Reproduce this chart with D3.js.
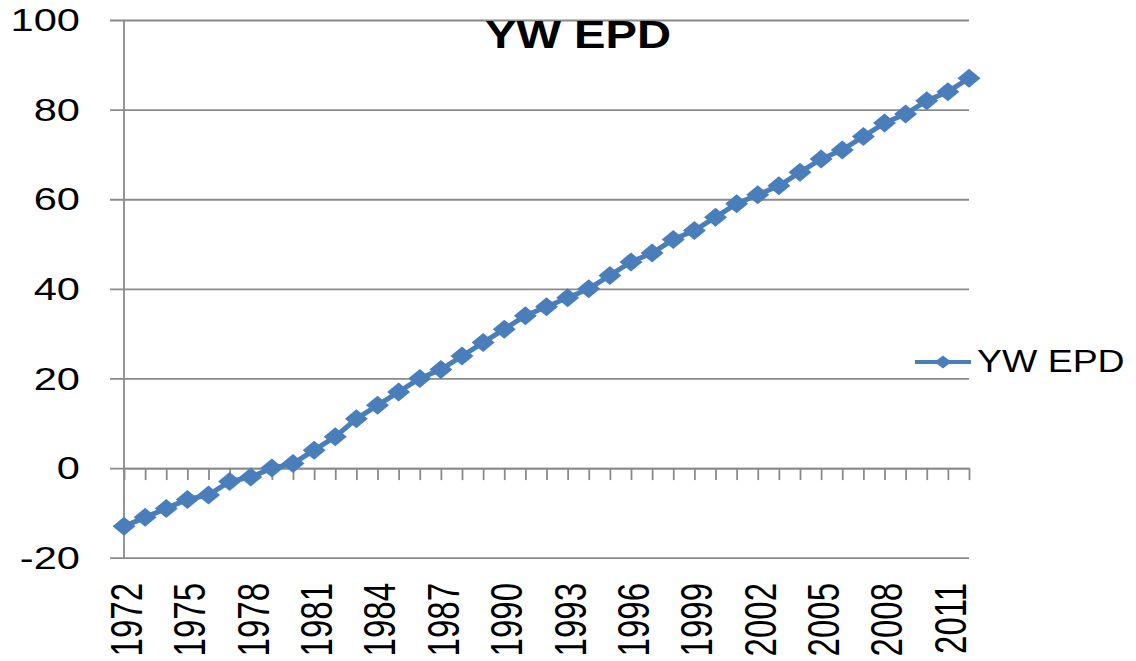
<!DOCTYPE html>
<html>
<head>
<meta charset="utf-8">
<script src="https://cdn.jsdelivr.net/npm/d3@7"></script>
<style>
    body { margin: 0; background: #fff; }
    text { font-family: "Liberation Sans", Arial, sans-serif; fill: #000; }
</style>
</head>
<body>
<script>
    // data
    let years = d3.range(1972, 2013)
    let ywEpd = [-13, -11, -9, -7, -6, -3, -2, 0, 1, 4, 7, 11, 14, 17, 20, 22, 25, 28, 31, 34,
                 36, 38, 40, 43, 46, 48, 51, 53, 56, 59, 61, 63, 66, 69, 71, 74, 77, 79, 82, 84, 87]
    let xLabels = [1972, 1975, 1978, 1981, 1984, 1987, 1990, 1993, 1996, 1999, 2002, 2005, 2008, 2011]
    let yTicks = [-20, 0, 20, 40, 60, 80, 100]
    let seriesName = "YW EPD"
    let chartTitle = "YW EPD"

    let blue = "#4a7ebb",
        grid = "#8a8a8a"

    let svg = d3.select("body").append("svg")
                .attr("width", 1136).attr("height", 661)

    let x = d3.scalePoint().domain(years).range([124, 969])
    let y = d3.scaleLinear().domain([-20, 100]).range([557.7, 20])

    // horizontal gridlines (they stick out left of the axis like ticks)
    let yAxis = svg.append("g").attr("transform", "translate(110,0)")
        .call(d3.axisLeft(y).tickValues(yTicks).tickSizeInner(-(969 - 110)).tickSizeOuter(0).tickFormat(""))
    yAxis.select(".domain").remove()
    yAxis.selectAll("line").attr("stroke", grid).attr("stroke-width", 1.8)

    // vertical axis line
    svg.append("line")
        .attr("x1", x(1972)).attr("x2", x(1972))
        .attr("y1", y(100)).attr("y2", y(-20))
        .attr("stroke", grid).attr("stroke-width", 1.8)

    // category axis sits on zero
    let xAxis = svg.append("g").attr("transform", "translate(0," + y(0) + ")")
        .call(d3.axisBottom(x).tickSizeInner(12).tickSizeOuter(0).tickFormat(""))
    xAxis.select(".domain").attr("stroke", grid).attr("stroke-width", 1.8)
    xAxis.selectAll("line").attr("stroke", grid).attr("stroke-width", 1.8)

    // y labels
    svg.selectAll(".ylab").data(yTicks).enter().append("text")
        .attr("class", "ylab")
        .attr("transform", d => "translate(80," + y(d) + ") scale(1.3,1)")
        .attr("text-anchor", "end")
        .attr("dominant-baseline", "central")
        .attr("font-size", 32)
        .text(d => d)

    // x labels, rotated
    svg.selectAll(".xlab").data(xLabels).enter().append("text")
        .attr("class", "xlab")
        .attr("transform", d => "translate(" + (x(d) + 2) + ",583) scale(1.36,1) rotate(-90)")
        .attr("text-anchor", "end")
        .attr("dominant-baseline", "central")
        .attr("font-size", 33)
        .text(d => d)

    let pts = years.map((yr, i) => [x(yr), y(ywEpd[i])])

    svg.append("path")
        .attr("d", d3.line()(pts))
        .attr("fill", "none").attr("stroke", blue).attr("stroke-width", 5)

    let diamond = (w, h) => "M0," + (-h) + "L" + w + ",0L0," + h + "L" + (-w) + ",0Z"

    svg.selectAll(".mk").data(pts).enter().append("path")
        .attr("class", "mk")
        .attr("transform", d => "translate(" + d[0] + "," + d[1] + ")")
        .attr("d", diamond(11.5, 9.5))
        .attr("fill", blue)

    // title
    svg.append("text")
        .attr("transform", "translate(578,48) scale(1.21,1)")
        .attr("text-anchor", "middle")
        .attr("font-size", 39).attr("font-weight", "bold")
        .text(chartTitle)

    // legend
    svg.append("line")
        .attr("x1", 915).attr("x2", 971).attr("y1", 362).attr("y2", 362)
        .attr("stroke", blue).attr("stroke-width", 4)
    svg.append("path")
        .attr("transform", "translate(943,362)")
        .attr("d", diamond(8.5, 6.5))
        .attr("fill", blue)
    svg.append("text")
        .attr("transform", "translate(977,372) scale(1.17,1)")
        .attr("font-size", 32)
        .text(seriesName)
</script>
</body>
</html>
